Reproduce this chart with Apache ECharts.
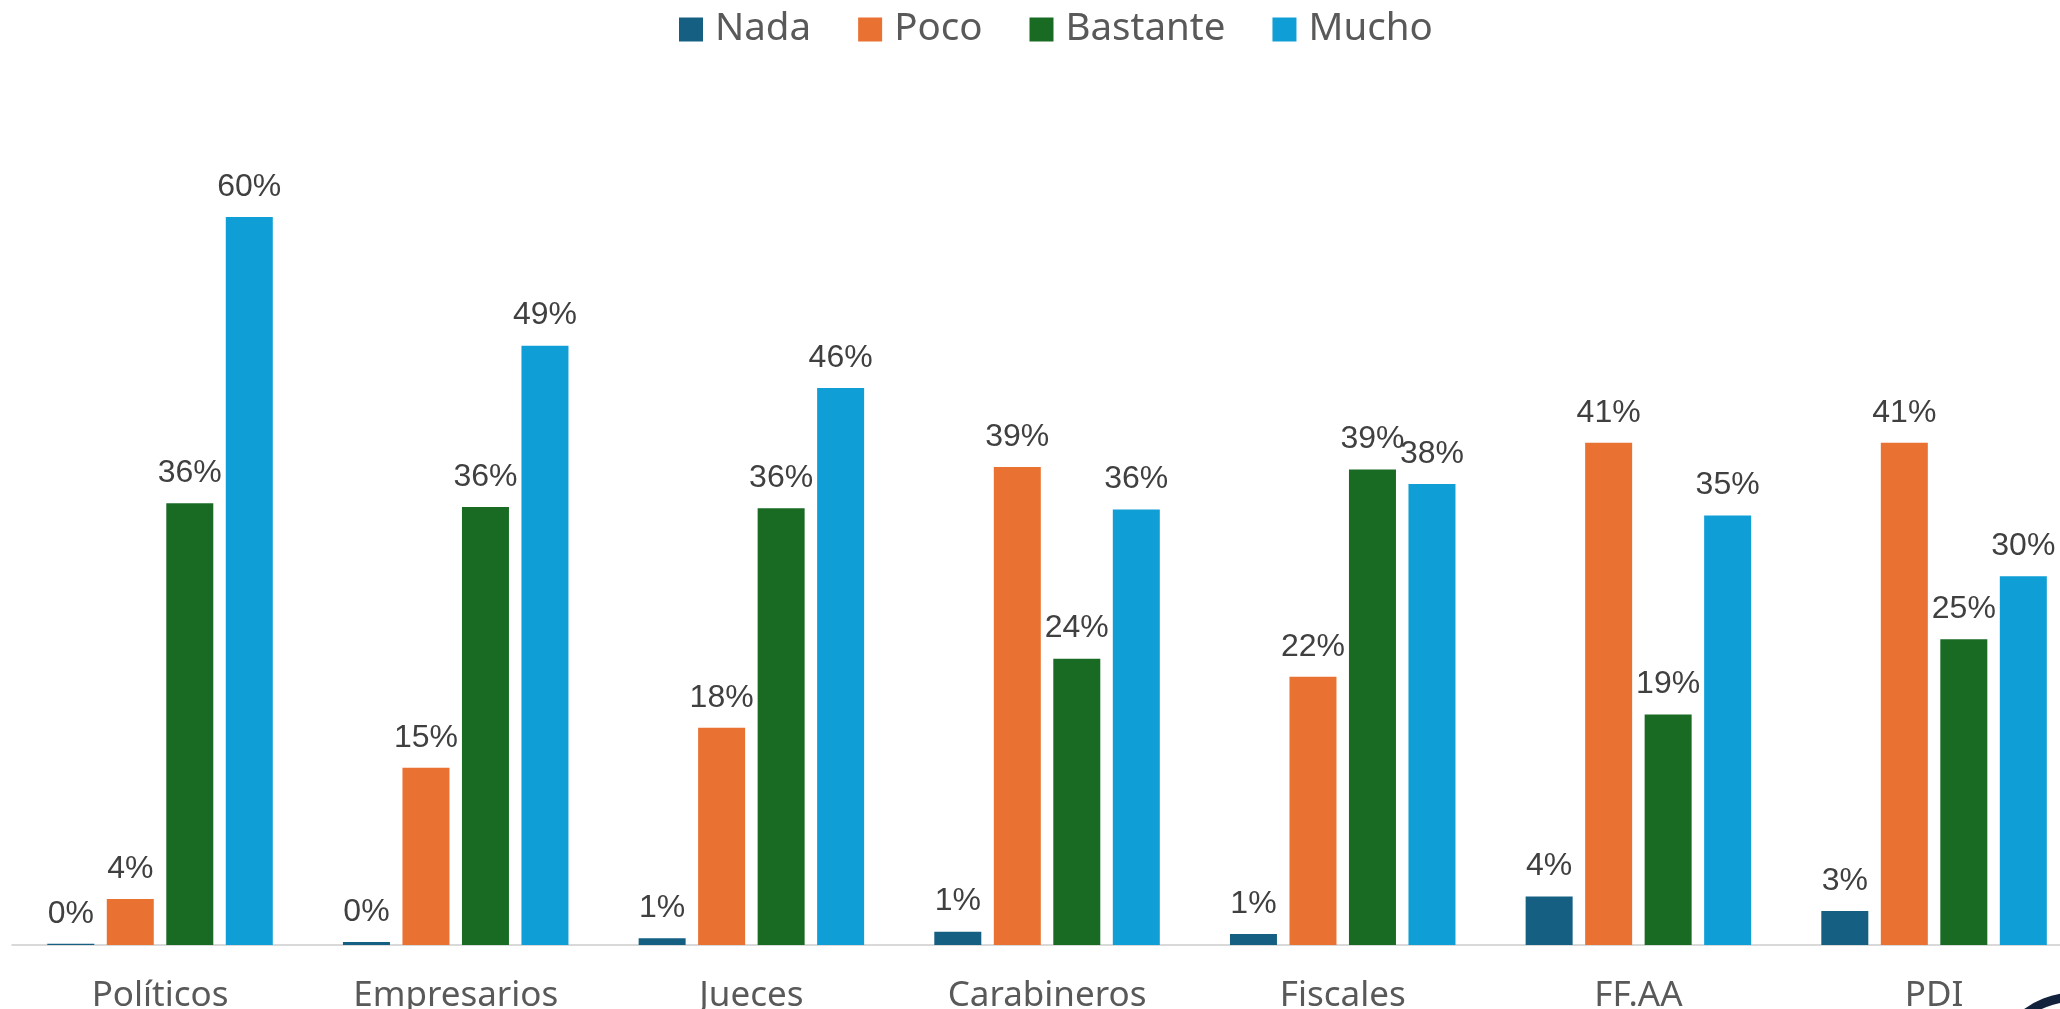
<!DOCTYPE html>
<html>
<head>
<meta charset="utf-8">
<script src="https://cdn.jsdelivr.net/npm/echarts@6/dist/echarts.min.js"></script>
<style>
html,body{margin:0;padding:0;background:#fff;}
#chart{width:2060px;height:1009px;}
</style>
</head>
<body>
<div id="chart"></div>
<script>
const categories = ['Políticos', 'Empresarios', 'Jueces', 'Carabineros', 'Fiscales', 'FF.AA', 'PDI'];
const seriesNames = ['Nada', 'Poco', 'Bastante', 'Mucho'];
const nada     = [0.1, 0.25, 0.55, 1.1, 0.9, 4.0, 2.8];
const poco     = [3.8, 14.6, 17.9, 39.4, 22.1, 41.4, 41.4];
const bastante = [36.4, 36.1, 36.0, 23.6, 39.2, 19.0, 25.2];
const mucho    = [60.0, 49.4, 45.9, 35.9, 38.0, 35.4, 30.4];
const colors = ['#156082', '#E97132', '#196B24', '#0F9ED5'];

const values = [nada, poco, bastante, mucho];
const chart = echarts.init(document.getElementById('chart'));
chart.setOption({
  animation: false,
  color: colors,
  legend: {
    data: seriesNames,
    left: 679,
    top: 10,
    padding: 0,
    icon: 'rect',
    itemWidth: 24,
    itemHeight: 24,
    itemGap: 47,
    itemStyle: {borderWidth: 0},
    textStyle: {fontFamily: 'Noto Sans', fontSize: 38.5, color: '#595959', padding: [0, 0, 0, 7]},
    selectedMode: false
  },
  grid: {left: 12.2, right: -21.9, top: 95.7, bottom: 64, containLabel: false, outerBoundsMode: 'none'},
  xAxis: {
    type: 'category',
    data: categories,
    axisLine: {show: true, lineStyle: {color: '#d9d9d9', width: 2}},
    axisTick: {show: false},
    axisLabel: {fontFamily: 'Noto Sans', fontSize: 35, color: '#595959', margin: 34, interval: 0}
  },
  yAxis: {
    type: 'value',
    min: 0,
    max: 70,
    show: false,
    splitLine: {show: false}
  },
  series: seriesNames.map((name, i) => ({
    name: name,
    type: 'bar',
    data: values[i],
    barWidth: 47,
    barGap: '26.6%',
    itemStyle: {color: colors[i]},
    label: {
      show: true,
      position: 'top',
      distance: 14,
      fontFamily: 'Liberation Sans',
      fontSize: 32,
      color: '#404040',
      formatter: p => Math.round(p.value) + '%'
    }
  })),
  graphic: [
    {type: 'circle', shape: {cx: 2075, cy: 1079, r: 82}, style: {fill: 'none', stroke: '#12223d', lineWidth: 9}, silent: true},
    {type: 'circle', shape: {cx: 2075, cy: 1079, r: 70}, style: {fill: '#12223d'}, silent: true}
  ]
});
</script>
</body>
</html>
